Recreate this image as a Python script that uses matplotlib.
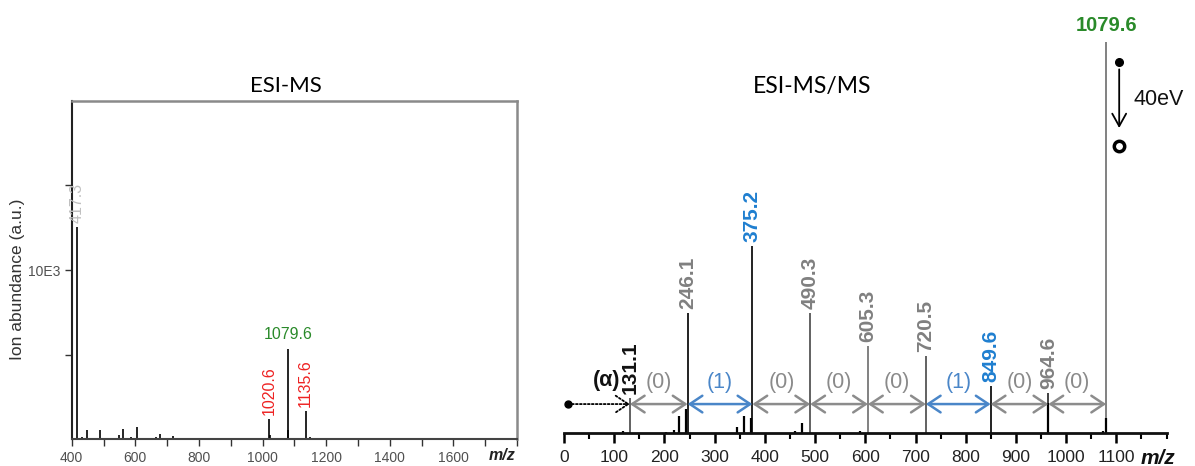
import matplotlib
matplotlib.use("Agg")
import matplotlib.pyplot as plt
from matplotlib.ticker import MultipleLocator

plt.rcParams['font.family'] = ['Liberation Sans', 'DejaVu Sans']

# ---------------- data: ESI-MS (left) ----------------
ms_mz = [417.3, 431, 447, 475, 489, 548.6, 562, 588, 604, 664, 677, 719, 722, 796,
         1020.6, 1022, 1079.6, 1080.6, 1135.6, 1150]
ms_int = [12560, 140, 530, 80, 530, 240, 590, 120, 700, 120, 300, 180, 80, 60,
          1165, 240, 5325, 530, 1675, 120]
ms_labels = {417.3: ("417.3", "#c0c0c0", 90),
             1020.6: ("1020.6", "#ee2222", 90),
             1079.6: ("1079.6", "#2a8a2a", 0),
             1135.6: ("1135.6", "#ee2222", 90)}
ms_xticks = [400, 600, 800, 1000, 1200, 1400, 1600]
ms_yticks = [5000, 10000, 15000]
ms_yticklabels = ["", "10E3", ""]

# ---------------- data: ESI-MS/MS (right) ----------------
msms_main_mz = [131.1, 246.1, 375.2, 490.3, 605.3, 720.5, 849.6, 964.6, 1079.6]
msms_main_int = [9.0, 30.7, 47.8, 30.7, 22.3, 19.7, 12.0, 10.2, 100.0]
msms_main_color = ["#555555", "#111111", "#111111", "#555555", "#777777",
                   "#555555", "#111111", "#333333", "#777777"]
msms_label_color = ["#111111", "#808080", "#1f7fd0", "#808080", "#808080",
                    "#808080", "#1f7fd0", "#808080", "#2a8a2a"]
msms_minor_mz = [117, 203, 219, 229.7, 243, 344, 359, 372, 460, 473.5, 589.6,
                 964.6, 1073, 1079.6]
msms_minor_int = [0.5, 0.3, 0.8, 4.4, 6.1, 1.5, 4.4, 3.8, 0.5, 2.6, 0.5,
                  7.7, 0.5, 3.8]
seg_labels = ["(0)", "(1)", "(0)", "(0)", "(0)", "(1)", "(0)", "(0)"]
msms_xticks = list(range(0, 1200, 100))

GREY = "#8c8c8c"
BLUE = "#4a86c8"

W, H = 1195, 466
fig = plt.figure(figsize=(W / 100, H / 100), dpi=100)


def px_axes(x0, y0, x1, y1):
    return fig.add_axes([x0 / W, 1 - y1 / H, (x1 - x0) / W, (y1 - y0) / H])


# ================= left panel =================
ax = px_axes(71.7, 101, 517, 439)
ax.vlines(ms_mz, 0, ms_int, color="black", lw=1.2)
ax.set_xlim(400, 1800)
ax.set_ylim(0, 20000)
ax.set_xticks(ms_xticks)
ax.xaxis.set_minor_locator(MultipleLocator(100))
ax.set_yticks(ms_yticks)
ax.set_yticklabels(ms_yticklabels)
ax.tick_params(axis="both", which="both", direction="out", length=5, width=1,
               labelsize=10, labelcolor="#505050", color="#333333")
ax.tick_params(axis="x", pad=4)
for s in ("top", "right"):
    ax.spines[s].set_color("#8a8a8a")
    ax.spines[s].set_linewidth(1.8)
ax.spines["left"].set_color("#222222")
ax.spines["left"].set_linewidth(1.5)
ax.spines["bottom"].set_color("#444444")
ax.spines["bottom"].set_linewidth(1.5)
fig.text(18 / W, 1 - 279 / H, "Ion abundance (a.u.)", rotation=90, fontsize=12.5,
         color="#333333", ha="center", va="center")
for mz, (txt, col, rot) in ms_labels.items():
    y = ms_int[ms_mz.index(mz)]
    ax.annotate(txt, (mz, y), xytext=(0, 3 if rot else 5), textcoords="offset points",
                rotation=rot, ha="center", va="bottom", color=col, fontsize=11.5)
fig.text(502 / W, 1 - 455 / H, "m/z", fontsize=11.5, fontweight="bold",
         fontstyle="italic", ha="center", va="center", color="#222222")
fig.text(286 / W, 1 - 86 / H, "ESI-MS", fontsize=16, ha="center", va="center",
         family="Lato")

# ================= right panel =================
ymax = 433 / 391 * 100
bx = px_axes(564, 0, 1166.6, 433)
bx.set_xlim(0, 1200)
bx.set_ylim(0, ymax)
for s in ("top", "right", "left"):
    bx.spines[s].set_visible(False)
bx.spines["bottom"].set_linewidth(2)
bx.spines["bottom"].set_color("#111111")
bx.set_yticks([])
bx.set_xticks(msms_xticks)
bx.xaxis.set_minor_locator(MultipleLocator(50))
bx.tick_params(axis="x", which="major", direction="out", length=7, width=1.8,
               labelsize=12.5, labelcolor="#222222", pad=5)
bx.tick_params(axis="x", which="minor", direction="out", length=4, width=1.5)

bx.vlines(msms_main_mz, 0, msms_main_int, colors=msms_main_color, lw=1.3)
bx.vlines(msms_minor_mz, 0, msms_minor_int, color="black", lw=1.6)

for i, (mz, y, col) in enumerate(zip(msms_main_mz, msms_main_int, msms_label_color)):
    if mz == 1079.6:
        bx.annotate("1079.6", (mz, y), xytext=(0, 5), textcoords="offset points",
                    ha="center", va="bottom", color=col, fontsize=14.5,
                    fontweight="bold", annotation_clip=False)
    else:
        bx.annotate(f"{mz:.1f}", (mz, y), xytext=(0, 3), textcoords="offset points",
                    rotation=90, ha="center", va="bottom", color=col, fontsize=15,
                    fontweight="bold")

# fragmentation arrows
arrow_y = 7.4
for i in range(len(msms_main_mz) - 1):
    a, b = msms_main_mz[i], msms_main_mz[i + 1]
    col = BLUE if seg_labels[i] == "(1)" else GREY
    bx.annotate("", xy=(b, arrow_y), xytext=(a, arrow_y),
                arrowprops=dict(arrowstyle="<->, head_length=0.9, head_width=0.6",
                                color=col, lw=1.8, shrinkA=0, shrinkB=0,
                                mutation_scale=10))
    bx.text((a + b) / 2, 12.8, seg_labels[i], ha="center", va="center", fontsize=15.5,
            color=BLUE if seg_labels[i] == "(1)" else "#8a8a8a")

# dotted start
bx.plot([8], [arrow_y], "o", color="black", ms=5)
bx.annotate("", xy=(msms_main_mz[0], arrow_y), xytext=(8, arrow_y),
            arrowprops=dict(arrowstyle="->, head_length=0.9, head_width=0.6",
                            color="black", lw=1.3, ls=(0, (1, 1.2)), shrinkA=0,
                            shrinkB=0, mutation_scale=10))
bx.text(84, 13.3, "(α)", ha="center", va="center", fontsize=15.5, fontweight="bold",
        color="#111111")

# precursor activation
bx.plot([1105.6], [94.9], "o", color="black", ms=5.5, clip_on=False)
bx.annotate("", xy=(1105.6, 78.0), xytext=(1105.6, 93.0),
            arrowprops=dict(arrowstyle="->, head_length=0.9, head_width=0.5",
                            color="black", lw=1.3, shrinkA=0, shrinkB=0,
                            mutation_scale=10), annotation_clip=False)
bx.plot([1105.6], [73.4], "o", mfc="white", mec="black", mew=2.5, ms=7.5,
        clip_on=False)
bx.text(1133.5, 85.4, "40eV", ha="left", va="center", fontsize=15.5, color="#111111")

bx.text(1183, -6.5, "m/z", fontsize=15, fontweight="bold", fontstyle="italic",
        ha="center", va="center", color="#111111", clip_on=False)
fig.text(812 / W, 1 - 86 / H, "ESI-MS/MS", fontsize=16.5, ha="center", va="center",
         family="Lato")

fig.savefig("out.png", dpi=100)
